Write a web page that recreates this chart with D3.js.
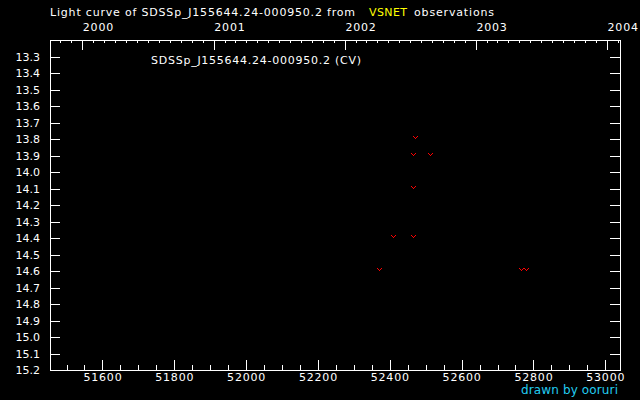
<!DOCTYPE html>
<html>
<head>
<meta charset="utf-8">
<script src="https://cdn.jsdelivr.net/npm/d3@7"></script>
<style>
body { margin: 0; background: #000; }
svg { display: block; }
text { font-family: "DejaVu Sans", sans-serif; font-size: 11px; fill: #fff; }
</style>
</head>
<body>
<div id="chart"></div>
<script>
// observations (MJD, magnitude)
var mjd = [52369, 52408, 52466, 52464, 52466, 52511, 52469, 52764, 52779]
var mag = [14.6, 14.4, 14.4, 14.1, 13.9, 13.9, 13.8, 14.6, 14.6]

var xMajor = [51600, 51800, 52000, 52200, 52400, 52600, 52800, 53000]
var xMinor = [51500, 51550, 51650, 51700, 51750, 51850, 51900, 51950, 52050, 52100, 52150,
              52250, 52300, 52350, 52450, 52500, 52550, 52650, 52700, 52750, 52850, 52900, 52950]
var yTicks = [13.3, 13.4, 13.5, 13.6, 13.7, 13.8, 13.9, 14.0, 14.1, 14.2,
              14.3, 14.4, 14.5, 14.6, 14.7, 14.8, 14.9, 15.0, 15.1, 15.2]
var years = [2000, 2001, 2002, 2003, 2004]

var W = 640, H = 400
var ml = 50, mt = 40, pw = 570, ph = 330

var svg = d3.select("#chart").append("svg")
    .attr("width", W).attr("height", H)
    .style("background", "#000")

var x = d3.scaleLinear().domain([51454, 53041]).range([0, pw])
var y = d3.scaleLinear().domain([13.2, 15.2]).range([0, ph])

function mjdToDate(m) { return new Date(Date.UTC(1858, 10, 17) + m * 86400000) }
var xt = d3.scaleUtc().domain(x.domain().map(mjdToDate)).range([0, pw])

var g = svg.append("g").attr("transform", "translate(" + ml + "," + mt + ")")

function styleAxis(sel) {
    sel.select(".domain").remove()
    sel.selectAll("line").attr("stroke", "#fff").attr("shape-rendering", "crispEdges")
    sel.selectAll("text").attr("fill", "#fff").style("font-family", "DejaVu Sans, sans-serif").style("font-size", "11px")
}

// left
g.append("g")
    .call(d3.axisLeft(y).tickValues(yTicks).tickSize(-10).tickPadding(10).tickFormat(d3.format(".1f")))
    .call(styleAxis)

// right
g.append("g").attr("transform", "translate(" + pw + ",0)")
    .call(d3.axisRight(y).tickValues(yTicks).tickSize(-10).tickFormat(""))
    .call(styleAxis)

// bottom
g.append("g").attr("transform", "translate(0," + ph + ")")
    .call(d3.axisBottom(x).tickValues(xMinor).tickSize(-5).tickFormat(""))
    .call(styleAxis)
g.append("g").attr("transform", "translate(0," + ph + ")")
    .call(d3.axisBottom(x).tickValues(xMajor).tickSize(-10).tickFormat(d3.format("d")))
    .call(styleAxis)
    .selectAll("text").attr("y", 11).attr("dy", null).style("letter-spacing", "0.8px")

// top: months and years
g.append("g")
    .call(d3.axisTop(xt).tickValues(d3.utcMonth.range(xt.domain()[0], xt.domain()[1])).tickSize(-3).tickFormat(""))
    .call(styleAxis)
g.append("g")
    .call(d3.axisTop(xt).tickValues(years.map(function(v){ return new Date(Date.UTC(v, 0, 1)) }))
        .tickSize(-10).tickFormat(d3.utcFormat("%Y")))
    .call(styleAxis)
    .selectAll("text").attr("y", -9).attr("dy", null).attr("text-anchor", "start").style("letter-spacing", "0.8px")

// frame
g.append("rect")
    .attr("x", 0.5).attr("y", 0.5).attr("width", pw).attr("height", ph)
    .attr("fill", "none").attr("stroke", "#fff").attr("shape-rendering", "crispEdges")

// points: small red "v"
var vpix = [[-2, -2], [-1, -1], [0, 0], [1, -1], [2, -2]]
var pts = g.selectAll(".pt").data(d3.range(mjd.length)).enter().append("g")
    .attr("class", "pt")
    .attr("transform", function(i){ return "translate(" + Math.round(x(mjd[i])) + "," + Math.round(y(mag[i])) + ")" })
pts.selectAll("rect").data(vpix).enter().append("rect")
    .attr("x", function(p){ return p[0] }).attr("y", function(p){ return p[1] - 1 })
    .attr("width", 1).attr("height", 1).attr("fill", "#ff0000")

// titles
svg.append("text").attr("x", 50).attr("y", 16)
    .attr("textLength", 305).attr("lengthAdjust", "spacing")
    .text("Light curve of SDSSp_J155644.24-000950.2 from")
svg.append("text").attr("x", 369).attr("y", 16).style("fill", "#ffff00")
    .attr("textLength", 38).attr("lengthAdjust", "spacing")
    .text("VSNET")
svg.append("text").attr("x", 414).attr("y", 16)
    .attr("textLength", 80).attr("lengthAdjust", "spacing")
    .text("observations")

svg.append("text").attr("x", 151).attr("y", 64)
    .attr("textLength", 210).attr("lengthAdjust", "spacing")
    .text("SDSSp_J155644.24-000950.2 (CV)")

svg.append("text").attr("x", 521).attr("y", 394)
    .style("fill", "#22ccf0").style("font-size", "12px")
    .attr("textLength", 97).attr("lengthAdjust", "spacing")
    .text("drawn by ooruri")
</script>
</body>
</html>
